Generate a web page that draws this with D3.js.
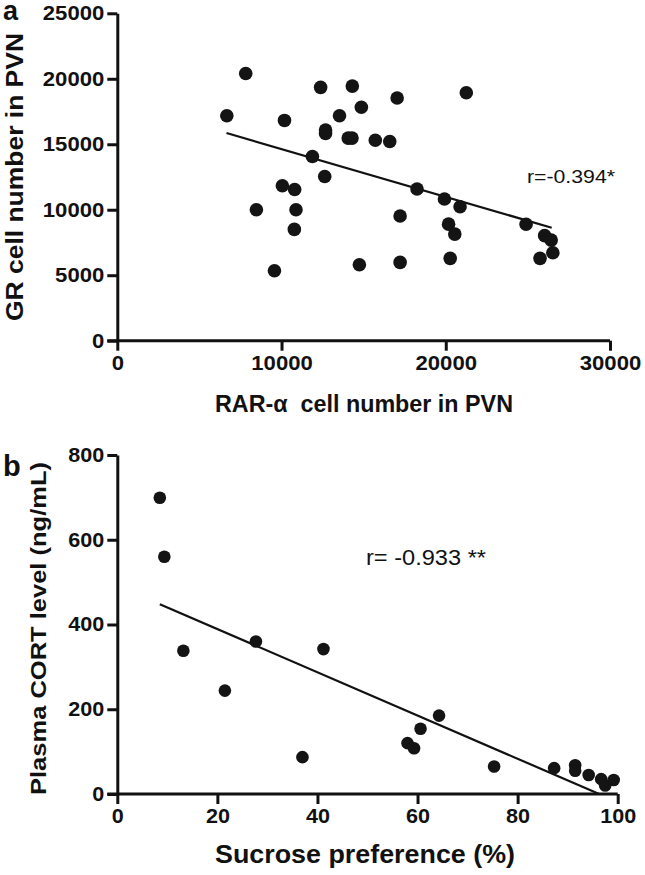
<!DOCTYPE html>
<html>
<head>
<meta charset="utf-8">
<script src="https://cdn.jsdelivr.net/npm/d3@7"></script>
<style>
  html, body { margin: 0; padding: 0; background: #fff; }
  svg { display: block; }
  text { font-family: "Liberation Sans", Arial, sans-serif; fill: #111; }
</style>
</head>
<body>
<svg id="chart" width="645" height="875"></svg>
<script>
// ---------- Panel a data ----------
const rarX = [7820, 6670, 10180, 12380, 14310, 14860, 13530, 17040, 21250, 12680, 12680, 14060, 14290,
  15710, 16590, 11880, 12630, 10050, 10800, 18250, 19920, 8470, 10880, 10780, 9570, 17220, 20170,
  20550, 20870, 24890, 26020, 26420, 26520, 25740, 14740, 17220, 20270];
const grY = [20400, 17180, 16820, 19340, 19440, 17830, 17180, 18530, 18930, 16080, 15830, 15470, 15470,
  15310, 15210, 14070, 12540, 11830, 11550, 11580, 10820, 10000, 10000, 8500, 5340, 9520, 8900,
  8140, 10230, 8890, 8020, 7680, 6720, 6290, 5800, 5980, 6290];
const fitAX = [6650, 26450];
const fitAY = [15855, 8626];
const ticksAX = [0, 10000, 20000, 30000];
const ticksAY = [0, 5000, 10000, 15000, 20000, 25000];

// ---------- Panel b data ----------
const sucroseX = [8.5, 9.4, 13.2, 21.5, 27.7, 37.0, 41.2, 58.0, 59.3, 60.6, 64.3, 75.3, 87.3, 91.5,
  91.5, 94.2, 96.7, 97.5, 99.2];
const cortY = [699, 560, 338, 244, 360, 87, 342, 120, 108, 154, 185, 65, 61, 68, 55, 45, 35, 20, 33];
const fitBX = [8.5, 96.3];
const fitBY = [448, 0];
const ticksBX = [0, 20, 40, 60, 80, 100];
const ticksBY = [0, 200, 400, 600, 800];

const svg = d3.select("#chart");

function panel(cfg) {
  const g = svg.append("g");
  const x = d3.scaleLinear().domain(cfg.xDomain).range(cfg.xRange);
  const y = d3.scaleLinear().domain(cfg.yDomain).range(cfg.yRange);

  const xAxis = g.append("g")
    .attr("transform", `translate(0,${cfg.yRange[0]})`)
    .call(d3.axisBottom(x).tickValues(cfg.xTicks).tickFormat(d3.format("d"))
      .tickSize(10).tickSizeOuter(0).tickPadding(5));
  const yAxis = g.append("g")
    .attr("transform", `translate(${cfg.xRange[0]},0)`)
    .call(d3.axisLeft(y).tickValues(cfg.yTicks).tickFormat(d3.format("d"))
      .tickSize(10).tickSizeOuter(0).tickPadding(3));
  [xAxis, yAxis].forEach(a => {
    a.selectAll("path, line").attr("stroke", "#111").attr("stroke-width", 3);
    a.selectAll("text").attr("font-size", 20).attr("font-weight", "bold")
      .style("font-family", "'Liberation Sans', Arial, sans-serif").attr("fill", "#111")
      .attr("lengthAdjust", "spacingAndGlyphs")
      .attr("textLength", function () { return this.textContent.length * cfg.digitW; });
  });
  xAxis.select("path").attr("d", `M${cfg.xRange[0] - 10},0H${cfg.xRange[1]}`);

  // regression line
  g.append("line")
    .attr("x1", x(cfg.fitX[0])).attr("y1", y(cfg.fitY[0]))
    .attr("x2", x(cfg.fitX[1])).attr("y2", y(cfg.fitY[1]))
    .attr("stroke", "#111").attr("stroke-width", 2.2);

  // points
  g.selectAll("circle.pt").data(cfg.xs.map((v, i) => [v, cfg.ys[i]]))
    .enter().append("circle").attr("class", "pt")
    .attr("cx", d => x(d[0])).attr("cy", d => y(d[1]))
    .attr("r", cfg.r).attr("fill", "#141414");

  // axis titles
  g.append("text")
    .attr("x", cfg.xTitlePos[0]).attr("y", cfg.xTitlePos[1])
    .attr("font-size", cfg.xTitleSize).attr("font-weight", "bold")
    .attr("text-anchor", "start")
    .style("white-space", "pre")
    .attr("lengthAdjust", "spacingAndGlyphs").attr("textLength", cfg.xTitleLen)
    .text(cfg.xTitle);
  g.append("text")
    .attr("transform", `translate(${cfg.yTitlePos[0]},${cfg.yTitlePos[1]}) rotate(-90)`)
    .attr("x", 0).attr("y", 0)
    .attr("font-size", cfg.yTitleSize).attr("font-weight", "bold")
    .attr("text-anchor", "start")
    .attr("lengthAdjust", "spacingAndGlyphs").attr("textLength", cfg.yTitleLen)
    .text(cfg.yTitle);

  // panel letter
  g.append("text")
    .attr("x", cfg.letterPos[0]).attr("y", cfg.letterPos[1])
    .attr("font-size", cfg.letterSize).attr("font-weight", "bold")
    .text(cfg.letter);

  // r annotation
  g.append("text")
    .attr("x", cfg.rPos[0]).attr("y", cfg.rPos[1])
    .attr("font-size", cfg.rSize)
    .style("white-space", "pre")
    .attr("lengthAdjust", "spacingAndGlyphs").attr("textLength", cfg.rLen)
    .text(cfg.rText);
}

panel({
  xs: rarX, ys: grY,
  xDomain: [0, 30000], xRange: [117.3, 610],
  yDomain: [0, 25000], yRange: [340.7, 13.3],
  xTicks: ticksAX, yTicks: ticksAY, digitW: 12.3,
  fitX: fitAX, fitY: fitAY, r: 6.8,
  xTitle: "RAR-\u03b1  cell number in PVN", xTitlePos: [215, 412], xTitleSize: 23, xTitleLen: 298,
  yTitle: "GR cell number in PVN", yTitlePos: [23, 321], yTitleSize: 24, yTitleLen: 288,
  letter: "a", letterPos: [3, 20], letterSize: 27,
  rText: "r=-0.394*", rPos: [527, 183], rSize: 19, rLen: 88
});

panel({
  xs: sucroseX, ys: cortY,
  xDomain: [0, 100], xRange: [117.3, 617.7],
  yDomain: [0, 800], yRange: [794, 455],
  xTicks: ticksBX, yTicks: ticksBY, digitW: 12,
  fitX: fitBX, fitY: fitBY, r: 6.3,
  xTitle: "Sucrose preference (%)", xTitlePos: [215, 863], xTitleSize: 25, xTitleLen: 300,
  yTitle: "Plasma CORT level (ng/mL)", yTitlePos: [46, 795], yTitleSize: 22, yTitleLen: 333,
  letter: "b", letterPos: [3, 476], letterSize: 29,
  rText: "r= -0.933 **", rPos: [366, 565], rSize: 22, rLen: 120
});
</script>
</body>
</html>
